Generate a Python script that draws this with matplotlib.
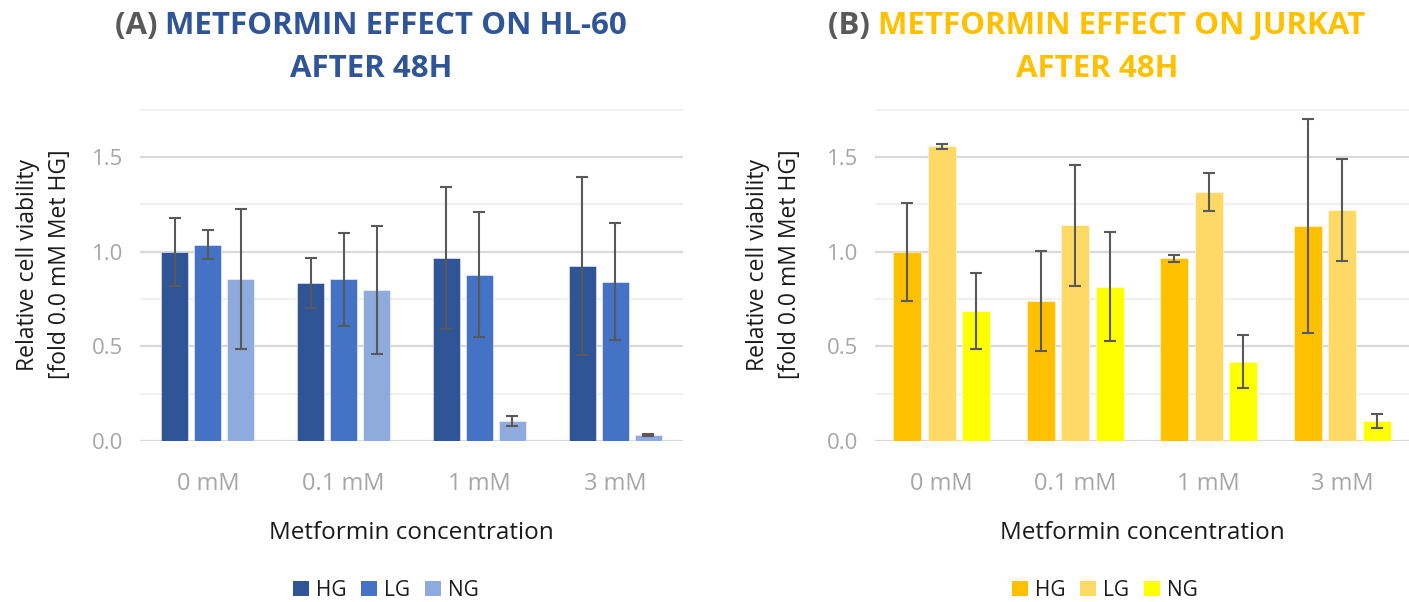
import matplotlib
matplotlib.use('Agg')
import matplotlib.pyplot as plt
from matplotlib.patches import Patch
import numpy as np

plt.rcParams['font.family'] = ['Open Sans', 'DejaVu Sans']

# data
CONCENTRATIONS = ['0 mM', '0.1 mM', '1 mM', '3 mM']
SERIES = ['HG', 'LG', 'NG']

hl60_hg = [1.00, 0.835, 0.965, 0.926]
hl60_hg_err = [0.18, 0.133, 0.375, 0.47]
hl60_lg = [1.037, 0.854, 0.880, 0.842]
hl60_lg_err = [0.077, 0.245, 0.33, 0.31]
hl60_ng = [0.854, 0.798, 0.106, 0.032]
hl60_ng_err = [0.37, 0.34, 0.025, 0.003]

jurkat_hg = [1.00, 0.739, 0.965, 1.138]
jurkat_hg_err = [0.26, 0.265, 0.017, 0.565]
jurkat_lg = [1.558, 1.141, 1.317, 1.22]
jurkat_lg_err = [0.013, 0.32, 0.10, 0.27]
jurkat_ng = [0.687, 0.816, 0.420, 0.106]
jurkat_ng_err = [0.20, 0.29, 0.14, 0.039]

BLUES = ['#2F5597', '#4472C4', '#8FAADC']
YELLOWS = ['#FFC000', '#FFD966', '#FFFF00']

W, H = 1409, 602
fig = plt.figure(figsize=(W / 100, H / 100), dpi=100)


def px_axes(x0, x1, y_top, y_bot):
    return fig.add_axes([x0 / W, 1 - y_bot / H, (x1 - x0) / W, (y_bot - y_top) / H])


def draw_panel(ax, values, errors, colors, width, offset, label_x):
    x = np.arange(len(CONCENTRATIONS))
    for i, (vals, errs) in enumerate(zip(values, errors)):
        ax.bar(x + (i - 1) * offset, vals, width, color=colors[i],
               edgecolor=(1, 1, 1, 0.5), linewidth=0.7, zorder=2)
        ax.errorbar(x + (i - 1) * offset, vals, yerr=errs, fmt='none',
                    ecolor='#595959', elinewidth=1.5, capsize=4,
                    capthick=1.5, zorder=3)

    ax.set_xlim(-0.5, len(CONCENTRATIONS) - 0.5)
    ax.set_ylim(0, 1.76)
    ax.set_xticks(x)
    ax.set_xticklabels(CONCENTRATIONS)
    ax.set_yticks([0, 0.5, 1.0, 1.5])
    ax.set_yticklabels(['0.0', '0.5', '1.0', '1.5'])
    ax.set_yticks([0.25, 0.75, 1.25, 1.75], minor=True)
    ax.tick_params(which='both', length=0, labelsize=16, colors='#A6A6A6')
    ax.tick_params(axis='x', pad=22, labelsize=17)
    ax.tick_params(axis='y', pad=12)
    ax.grid(axis='y', which='major', color='#D9D9D9', linewidth=1.6)
    ax.grid(axis='y', which='minor', color='#F0F0F0', linewidth=1.6)
    ax.set_axisbelow(True)
    for s in ax.spines.values():
        s.set_visible(False)

    ax.set_xlabel('Metformin concentration', fontsize=17.5, color='#1A1A1A')
    ax.xaxis.set_label_coords(0.5, -0.24)
    ax.set_ylabel('Relative cell viability\n[fold 0.0 mM Met HG]',
                  fontsize=16.5, color='#1A1A1A', linespacing=1.45)
    ax.yaxis.set_label_coords(label_x, 0.53)


ax1 = px_axes(140, 683, 108, 441)
draw_panel(ax1, [hl60_hg, hl60_lg, hl60_ng],
           [hl60_hg_err, hl60_lg_err, hl60_ng_err],
           BLUES, 0.2, 0.243, -0.125)

ax2 = px_axes(875, 1409, 108, 441)
draw_panel(ax2, [jurkat_hg, jurkat_lg, jurkat_ng],
           [jurkat_hg_err, jurkat_lg_err, jurkat_ng_err],
           YELLOWS, 0.21, 0.26, -0.137)


def two_color_title(cx, prefix, text1, text2, color):
    renderer = fig.canvas.get_renderer()
    kw = dict(fontsize=22.5, fontweight='bold', va='center')
    y1 = 1 - 26 / H
    y2 = 1 - 69 / H
    t_a = fig.text(0, y1, prefix + ' ', color='#595959', **kw)
    t_b = fig.text(0, y1, text1, color=color, **kw)
    wa = t_a.get_window_extent(renderer).width
    wb = t_b.get_window_extent(renderer).width
    start = cx - (wa + wb) / 2
    t_a.set_x(start / W)
    t_b.set_x((start + wa) / W)
    fig.text(cx / W, y2, text2, color=color, ha='center', **kw)


two_color_title(371, '(A)', 'METFORMIN EFFECT ON HL-60', 'AFTER 48H', '#2F5597')
two_color_title(1097, '(B)', 'METFORMIN EFFECT ON JURKAT', 'AFTER 48H', '#FFC000')

for cx, colors in [(386, BLUES), (1105, YELLOWS)]:
    handles = [Patch(facecolor=c, label=s) for c, s in zip(colors, SERIES)]
    fig.legend(handles=handles, loc='center', bbox_to_anchor=(cx / W, 1 - 590 / H),
               ncol=3, frameon=False, fontsize=15, handlelength=0.75,
               handleheight=0.75, handletextpad=0.35, columnspacing=0.7,
               labelcolor='#1A1A1A')

fig.savefig('out.png', dpi=100)
